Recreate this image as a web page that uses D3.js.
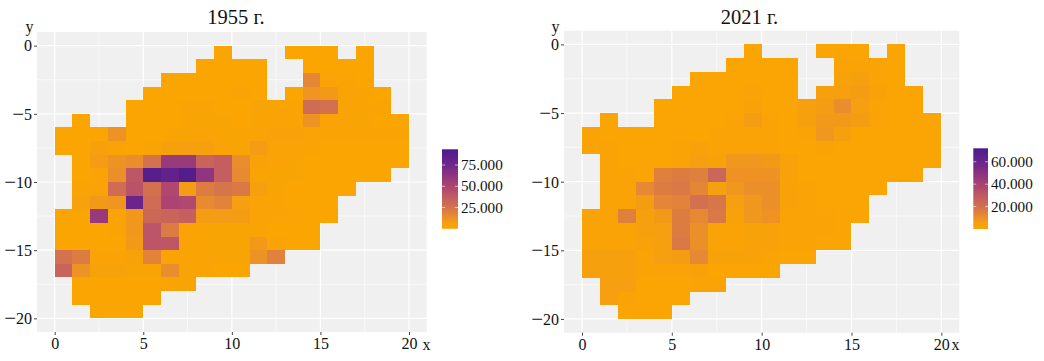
<!DOCTYPE html>
<html><head><meta charset="utf-8">
<script src="https://d3js.org/d3.v7.min.js"></script>
<style>html,body{margin:0;padding:0;background:#fff}svg{display:block}text{font-family:"Liberation Serif",serif;fill:#111}</style>
</head><body><svg id="c" width="1044" height="361"></svg>
<script>
const _ = null;
// thousands of units per cell; rows top to bottom (y 0 .. -19), columns x 0 .. 19
const values1955 = [
[_,_,_,_,_,_,_,_,_,1,_,_,_,1,1,1,_,1,_,_],
[_,_,_,_,_,_,_,_,1,1,1,1,_,_,1,1,1,1,_,_],
[_,_,_,_,_,_,1,1,1,1,1,1,_,_,17,3,2,1,_,_],
[_,_,_,_,_,1,1,1,1,1,2,1,_,1,11,9,3,2,1,_],
[_,_,_,_,1,1,1,2,2,1,1,2,2,2,28,26,3,2,2,_],
[_,1,_,_,1,1,1,2,2,2,1,2,3,3,12,3,2,2,1,1],
[1,1,1,12,1,1,2,2,3,2,2,3,4,4,3,2,2,2,2,2],
[1,1,6,3,1,2,6,7,6,3,2,8,3,3,2,1,1,1,1,1],
[_,1,8,12,14,25,58,58,33,36,14,4,3,2,1,1,1,1,1,1],
[_,1,3,13,40,88,82,90,62,36,15,2,2,2,1,1,1,1,1,_],
[_,2,3,28,42,26,48,8,21,24,22,6,2,1,1,1,1,_,_,_],
[_,5,9,11,78,28,50,47,15,18,7,3,2,1,1,1,_,_,_,_],
[1,1,59,2,10,31,33,35,8,8,8,3,3,2,1,1,_,_,_,_],
[1,1,1,2,10,41,21,3,2,2,2,2,1,1,1,_,_,_,_,_],
[1,1,1,1,9,41,40,3,2,2,2,9,3,1,1,_,_,_,_,_],
[25,21,3,3,4,18,3,3,2,2,2,12,19,_,_,_,_,_,_,_],
[33,12,4,4,2,2,14,2,2,1,1,_,_,_,_,_,_,_,_,_],
[_,1,1,1,1,1,2,2,_,_,_,_,_,_,_,_,_,_,_,_],
[_,1,1,1,1,1,_,_,_,_,_,_,_,_,_,_,_,_,_,_],
[_,_,1,1,1,_,_,_,_,_,_,_,_,_,_,_,_,_,_,_]
];
const values2021 = [
[_,_,_,_,_,_,_,_,_,1,_,_,_,1,1,1,_,1,_,_],
[_,_,_,_,_,_,_,_,1,1,1,1,_,_,2,2,2,1,_,_],
[_,_,_,_,_,_,1,1,1,1,1,1,_,_,3,4,2,1,_,_],
[_,_,_,_,_,1,1,1,1,2,1,1,_,4,5,6,3,1,1,_],
[_,_,_,_,1,1,1,1,1,3,1,1,4,6,11,5,2,1,1,_],
[_,1,_,_,1,1,1,1,2,6,2,1,4,7,7,6,2,1,1,1],
[2,1,1,1,1,1,1,2,2,2,2,1,2,8,4,1,1,1,1,1],
[2,2,1,1,1,2,3,2,2,2,2,1,1,2,1,1,1,1,1,1],
[_,2,1,1,1,2,5,3,8,8,7,3,1,1,1,1,1,1,1,1],
[_,2,2,1,15,16,15,24,9,9,9,3,1,1,1,1,1,1,1,_],
[_,2,2,12,16,17,13,4,8,10,10,3,2,1,1,1,1,_,_,_],
[_,2,2,6,13,14,20,18,5,8,10,3,2,1,1,1,_,_,_,_],
[2,2,15,4,7,16,12,17,3,8,9,2,2,2,1,1,_,_,_,_],
[2,2,2,4,5,16,10,2,2,3,3,2,2,2,1,_,_,_,_,_],
[2,2,2,3,4,17,10,2,2,3,3,2,2,1,1,_,_,_,_,_],
[4,4,4,2,5,6,12,3,3,3,2,1,1,_,_,_,_,_,_,_],
[4,4,4,2,2,2,3,1,1,1,1,_,_,_,_,_,_,_,_,_],
[_,5,5,1,1,1,2,2,_,_,_,_,_,_,_,_,_,_,_,_],
[_,5,2,1,1,1,_,_,_,_,_,_,_,_,_,_,_,_,_,_],
[_,_,1,1,1,_,_,_,_,_,_,_,_,_,_,_,_,_,_,_]
];
const titles = ["1955 г.", "2021 г."];
const xTicks = [0, 5, 10, 15, 20];
const yTicks = [0, -5, -10, -15, -20];
const legendTicks1955 = [25, 50, 75];
const legendTicks2021 = [20, 40, 60];
const legendMax1955 = 93.5;
const legendMax2021 = 72;
const rampStops = [0, .08, .16, .27, .40, .53, .80, 1];
const rampColors = ["#FBA600", "#F59E12", "#E88B30", "#D4714E", "#C25C62", "#AD4472", "#72268A", "#4A1C8C"];

const svg = d3.select("#c");
const defs = svg.append("defs");
const ramp = d3.scaleLinear().domain(rampStops).range(rampColors).interpolate(d3.interpolateRgb);
const fmtThousand = d => d + ".000";

function panel(cfg, i) {
  const g = svg.append("g");
  const x = d3.scaleLinear().domain([-1, 21]).range([cfg.l, cfg.r]);
  const y = d3.scaleLinear().domain([1, -21]).range([cfg.t, cfg.b]);
  const color = v => ramp(v / cfg.max);
  g.append("rect").attr("x", cfg.l).attr("y", cfg.t).attr("width", cfg.r - cfg.l).attr("height", cfg.b - cfg.t).attr("fill", "#F0F0F0");
  const minorX = xTicks.slice(0, -1).map(d => d + 2.5), minorY = yTicks.slice(0, -1).map(d => d - 2.5);
  const grid = (vs, w) => {
    g.selectAll(null).data(vs).join("line").attr("x1", d => x(d)).attr("x2", d => x(d)).attr("y1", cfg.t).attr("y2", cfg.b).attr("stroke", "#fff").attr("stroke-width", w);
  };
  const gridH = (vs, w) => {
    g.selectAll(null).data(vs).join("line").attr("y1", d => y(d)).attr("y2", d => y(d)).attr("x1", cfg.l).attr("x2", cfg.r).attr("stroke", "#fff").attr("stroke-width", w);
  };
  grid(minorX, .6); gridH(minorY, .6); grid(xTicks, 1.2); gridH(yTicks, 1.2);

  const cells = [];
  cfg.values.forEach((row, r) => row.forEach((v, c) => { if (v !== null) cells.push({c, r, v}); }));
  g.selectAll("rect.cell").data(cells).join("rect").attr("class", "cell")
    .attr("x", d => x(d.c)).attr("y", d => y(-d.r))
    .attr("width", d => x(d.c + 1) - x(d.c)).attr("height", d => y(-d.r - 1) - y(-d.r))
    .attr("shape-rendering", "crispEdges").attr("fill", d => color(d.v));

  const ax = g.append("g").attr("transform", `translate(0,${cfg.b})`)
    .call(d3.axisBottom(x).tickValues(xTicks).tickSize(3).tickPadding(3));
  const ay = g.append("g").attr("transform", `translate(${cfg.l},0)`)
    .call(d3.axisLeft(y).tickValues(yTicks).tickSize(3).tickPadding(2));
  [ax, ay].forEach(a => {
    a.select(".domain").remove();
    a.selectAll("line").attr("stroke", "#444").attr("stroke-width", 1);
    a.selectAll("text").attr("font-size", 16).attr("fill", "#111");
  });
  // long minus sign, drawn larger than the digits as in the reference
  ay.selectAll("text").attr("dy", null).attr("y", 5.3).text(null).each(function (d) {
    const t = d3.select(this);
    if (d < 0) {
      t.append("tspan").attr("font-size", 21).attr("dy", 1.2).text("\u2212");
      t.append("tspan").attr("dy", -1.2).text(-d);
    } else t.append("tspan").text(d);
  });

  g.append("text").attr("x", cfg.titleX).attr("y", 23.5).attr("text-anchor", "middle").attr("font-size", 20.5).text(titles[i]);
  g.append("text").attr("x", cfg.yLabX).attr("y", 32).attr("text-anchor", "middle").attr("font-size", 16).text("y");
  g.append("text").attr("x", cfg.xLabX).attr("y", 350).attr("text-anchor", "middle").attr("font-size", 16).text("x");

  // colour bar
  const id = "grad" + i;
  const lg = defs.append("linearGradient").attr("id", id).attr("x1", 0).attr("x2", 0).attr("y1", 1).attr("y2", 0);
  lg.selectAll("stop").data(rampStops).join("stop")
    .attr("offset", d => d).attr("stop-color", d => ramp(d));
  const ly = d3.scaleLinear().domain([0, cfg.max]).range([cfg.barBottom, cfg.barTop]);
  g.append("rect").attr("x", cfg.barX).attr("y", cfg.barTop).attr("width", cfg.barW).attr("height", cfg.barBottom - cfg.barTop).attr("fill", `url(#${id})`);
  g.selectAll(null).data(cfg.ticks).join("g").each(function (d) {
    const t = d3.select(this);
    t.append("line").attr("x1", cfg.barX).attr("x2", cfg.barX + cfg.barW / 5).attr("y1", ly(d)).attr("y2", ly(d)).attr("stroke", "#fff").attr("stroke-width", .6);
    t.append("line").attr("x1", cfg.barX + cfg.barW * 4 / 5).attr("x2", cfg.barX + cfg.barW).attr("y1", ly(d)).attr("y2", ly(d)).attr("stroke", "#fff").attr("stroke-width", .6);
    t.append("text").attr("x", cfg.barX + cfg.barW + 3).attr("y", ly(d)).attr("dy", "0.33em").attr("font-size", 15.2).text(fmtThousand(d));
  });
}

panel({l: 37, r: 426.7, t: 32, b: 332, titleX: 236, yLabX: 29.5, xLabX: 426.5, values: values1955, max: legendMax1955,
  ticks: legendTicks1955, barX: 442, barW: 16, barTop: 149.3, barBottom: 228.8}, 0);
panel({l: 564, r: 959.3, t: 30.7, b: 332.7, titleX: 749.5, yLabX: 555.5, xLabX: 955.5, values: values2021, max: legendMax2021,
  ticks: legendTicks2021, barX: 973.3, barW: 14.7, barTop: 148.3, barBottom: 229}, 1);
</script></body></html>
